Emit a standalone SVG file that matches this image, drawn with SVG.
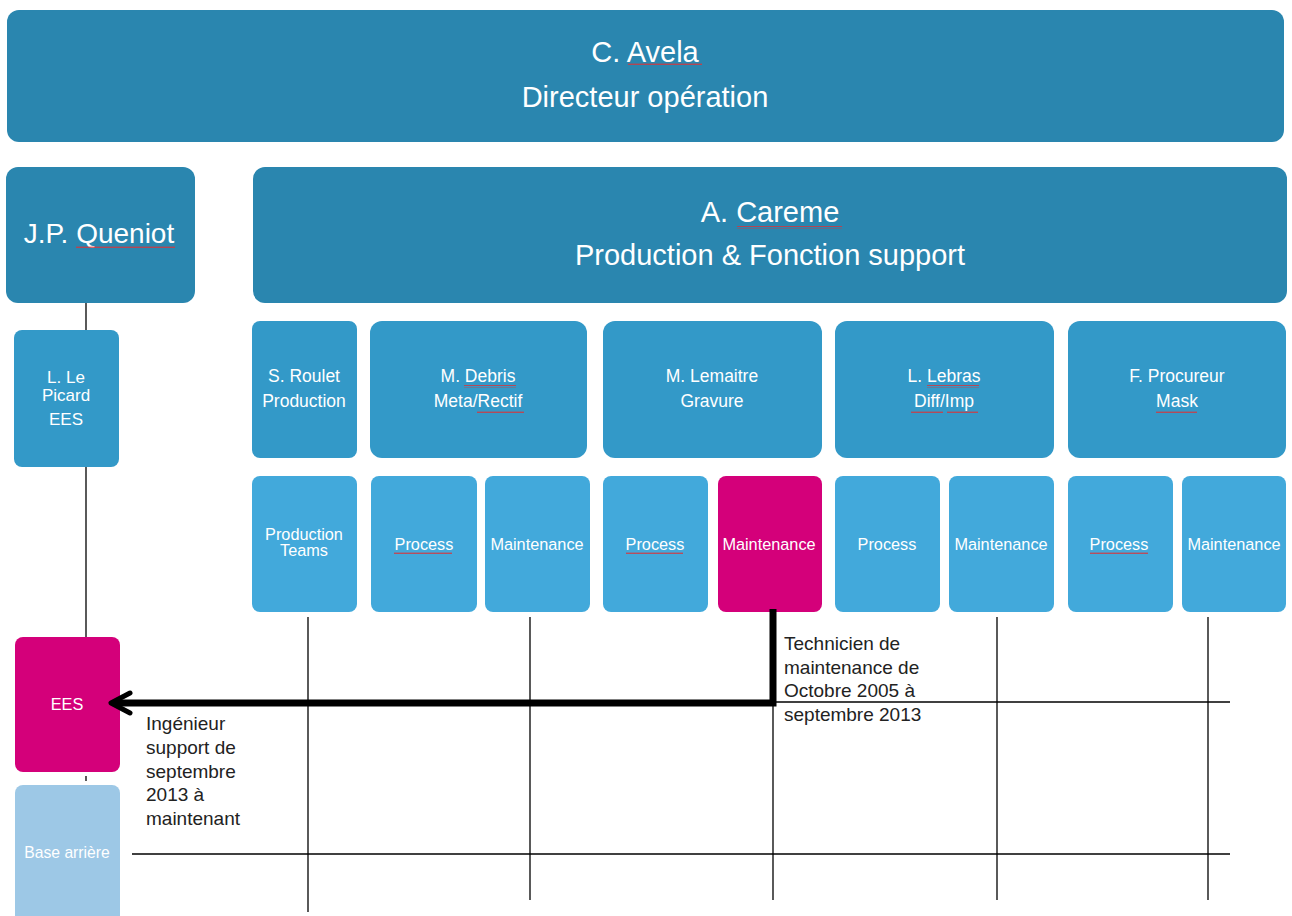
<svg xmlns="http://www.w3.org/2000/svg" width="1292" height="916" viewBox="0 0 1292 916">
<style>
.top{fill:#2A86AF}
.mid{fill:#3399C8}
.low{fill:#42A9DB}
.mag{fill:#D4007A}
.pale{fill:#9DC8E6}
text{font-family:"Liberation Sans",Arial,sans-serif;fill:#fff;text-anchor:middle}
.big{font-size:29px}
.med{font-size:17.5px}
.sm{font-size:16.3px}
.note{font-size:19px;fill:#222;text-anchor:start}
.thin{stroke:#000;stroke-width:1.3;fill:none}
.sq{fill:url(#wave)}
</style>
<defs>
<pattern id="wave" width="4" height="3" patternUnits="userSpaceOnUse">
<path d="M0,2 L1,0.6 L2,2 L3,0.6 L4,2" stroke="#D8333A" stroke-width="0.9" fill="none"/>
</pattern>
</defs>
<rect width="1292" height="916" fill="#fff"/>

<g id="n-avela"><rect class="top" x="7" y="10" width="1277" height="132" rx="12"/>
<text class="big" x="645" y="62">C. Avela</text><text class="big" x="645" y="107">Directeur opération</text>
<rect class="sq" x="628" y="63" width="74" height="3"/></g>

<g id="n-queniot"><rect class="top" x="6" y="167" width="189" height="136" rx="12"/>
<text class="big" x="99" y="243" style="font-size:28px">J.P. Queniot</text>
<rect class="sq" x="76" y="245" width="99" height="3"/></g>

<g id="n-careme"><rect class="top" x="253" y="167" width="1034" height="136" rx="12"/>
<text class="big" x="770" y="222">A. Careme</text><text class="big" x="770" y="265">Production &amp; Fonction support</text>
<rect class="sq" x="737" y="226" width="105" height="3"/></g>

<g id="n-lepicard"><rect class="mid" x="14" y="330" width="105" height="137" rx="8"/>
<text class="med" x="66" y="383" style="font-size:17px">L. Le</text><text class="med" x="66" y="401" style="font-size:17px">Picard</text><text class="med" x="66" y="425" style="font-size:17px">EES</text></g>

<g id="n-ees"><rect class="mag" x="15" y="637" width="105" height="135" rx="8"/>
<text class="sm" x="67" y="710">EES</text></g>

<g id="n-base"><rect class="pale" x="15" y="785" width="105" height="145" rx="8"/>
<text class="sm" x="67" y="858" style="font-size:15.7px">Base arrière</text></g>

<g id="n-roulet"><rect class="mid" x="252" y="321" width="105" height="137" rx="8"/>
<text class="med" x="304" y="382">S. Roulet</text><text class="med" x="304" y="407">Production</text></g>
<g id="n-debris"><rect class="mid" x="370" y="321" width="217" height="137" rx="12"/>
<text class="med" x="478" y="382">M. Debris</text><text class="med" x="478" y="407">Meta/Rectif</text>
<rect class="sq" x="464" y="385" width="52" height="3"/><rect class="sq" x="477" y="410" width="47" height="3"/></g>
<g id="n-lemaitre"><rect class="mid" x="603" y="321" width="219" height="137" rx="12"/>
<text class="med" x="712" y="382">M. Lemaitre</text><text class="med" x="712" y="407">Gravure</text></g>
<g id="n-lebras"><rect class="mid" x="835" y="321" width="219" height="137" rx="12"/>
<text class="med" x="944" y="382">L. Lebras</text><text class="med" x="944" y="407">Diff/Imp</text>
<rect class="sq" x="927" y="385" width="52" height="3"/><rect class="sq" x="911" y="410" width="32" height="3"/><rect class="sq" x="947" y="410" width="31" height="3"/></g>
<g id="n-procureur"><rect class="mid" x="1068" y="321" width="218" height="137" rx="12"/>
<text class="med" x="1177" y="382">F. Procureur</text><text class="med" x="1177" y="407">Mask</text>
<rect class="sq" x="1156" y="410" width="41" height="3"/></g>

<g id="n-prodteams"><rect class="low" x="252" y="476" width="105" height="136" rx="8"/>
<text class="sm" x="304" y="540">Production</text><text class="sm" x="304" y="556">Teams</text></g>
<g id="n-proc1"><rect class="low" x="371" y="476" width="106" height="136" rx="8"/>
<text class="sm" x="424" y="550">Process</text><rect class="sq" x="394" y="552" width="58" height="3"/></g>
<g id="n-maint1"><rect class="low" x="485" y="476" width="105" height="136" rx="8"/>
<text class="sm" x="537" y="550">Maintenance</text></g>
<g id="n-proc2"><rect class="low" x="603" y="476" width="105" height="136" rx="8"/>
<text class="sm" x="655" y="550">Process</text><rect class="sq" x="626" y="552" width="57" height="3"/></g>
<g id="n-maint2"><rect class="mag" x="718" y="476" width="104" height="136" rx="8"/>
<text class="sm" x="769" y="550">Maintenance</text></g>
<g id="n-proc3"><rect class="low" x="835" y="476" width="105" height="136" rx="8"/>
<text class="sm" x="887" y="550">Process</text></g>
<g id="n-maint3"><rect class="low" x="949" y="476" width="105" height="136" rx="8"/>
<text class="sm" x="1001" y="550">Maintenance</text></g>
<g id="n-proc4"><rect class="low" x="1068" y="476" width="105" height="136" rx="8"/>
<text class="sm" x="1119" y="550">Process</text><rect class="sq" x="1090" y="552" width="58" height="3"/></g>
<g id="n-maint4"><rect class="low" x="1182" y="476" width="104" height="136" rx="8"/>
<text class="sm" x="1234" y="550">Maintenance</text></g>

<g id="connectors">
<line class="thin" x1="86" y1="303" x2="86" y2="330"/>
<line class="thin" x1="86" y1="467" x2="86" y2="637"/>
<line class="thin" x1="86" y1="776" x2="86" y2="781"/>
<line class="thin" x1="308" y1="617" x2="308" y2="912"/>
<line class="thin" x1="530" y1="617" x2="530" y2="900"/>
<line class="thin" x1="773" y1="700" x2="773" y2="900"/>
<line class="thin" x1="997" y1="617" x2="997" y2="900"/>
<line class="thin" x1="1208" y1="617" x2="1208" y2="900"/>
<line class="thin" x1="773" y1="702" x2="1230" y2="702"/>
<line class="thin" x1="132" y1="854" x2="1230" y2="854"/>
<path d="M773,609 V703 H114" stroke="#000" stroke-width="7" fill="none"/>
<path d="M130,693 L111,703 L130,713" stroke="#000" stroke-width="5" fill="none" stroke-linecap="round" stroke-linejoin="round"/>
</g>

<g id="labels">
<text class="note" x="784" y="650">Technicien de</text>
<text class="note" x="784" y="674">maintenance de</text>
<text class="note" x="784" y="697">Octobre 2005 à</text>
<text class="note" x="784" y="721">septembre 2013</text>
<text class="note" x="146" y="730">Ingénieur</text>
<text class="note" x="146" y="754">support de</text>
<text class="note" x="146" y="778">septembre</text>
<text class="note" x="146" y="801">2013 à</text>
<text class="note" x="146" y="825">maintenant</text>
</g>
</svg>
